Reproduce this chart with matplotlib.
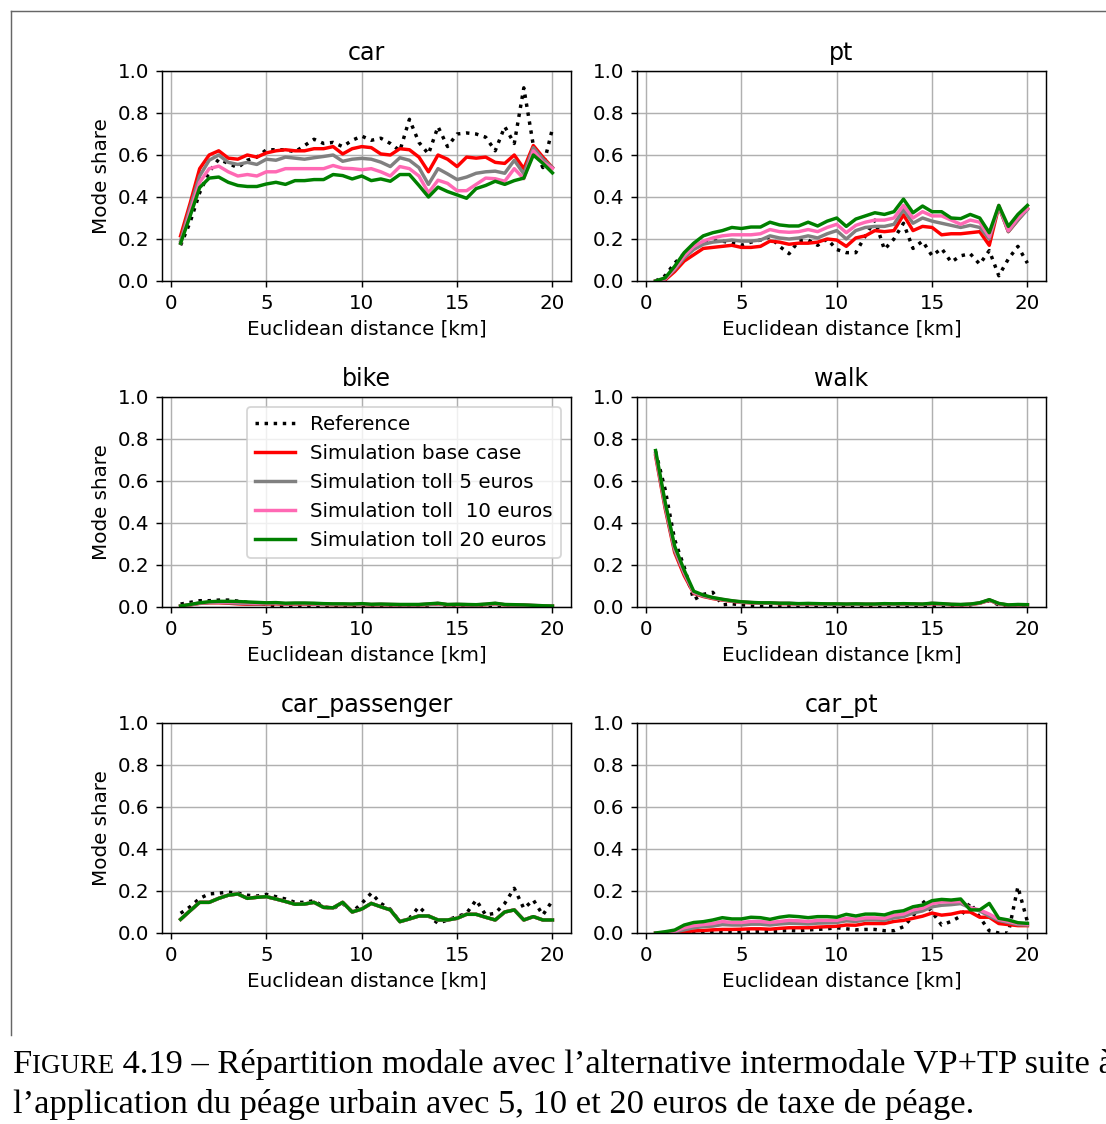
import matplotlib
matplotlib.use('Agg')
import matplotlib.pyplot as plt
from matplotlib.lines import Line2D

# distances [km]
dist = [0.5, 1.0, 1.5, 2.0, 2.5, 3.0, 3.5, 4.0, 4.5, 5.0,
        5.5, 6.0, 6.5, 7.0, 7.5, 8.0, 8.5, 9.0, 9.5, 10.0,
        10.5, 11.0, 11.5, 12.0, 12.5, 13.0, 13.5, 14.0, 14.5, 15.0,
        15.5, 16.0, 16.5, 17.0, 17.5, 18.0, 18.5, 19.0, 19.5, 20.0]

# car
car_ref = [0.17, 0.28, 0.42, 0.52, 0.58, 0.56, 0.54, 0.575, 0.59, 0.625, 0.625, 0.625, 0.615, 0.645, 0.675, 0.655, 0.66, 0.64, 0.67, 0.69,
           0.67, 0.68, 0.655, 0.62, 0.77, 0.66, 0.605, 0.735, 0.64, 0.70, 0.705, 0.70, 0.685, 0.62, 0.735, 0.655, 0.92, 0.645, 0.54, 0.725]
car_base = [0.215, 0.37, 0.535, 0.60, 0.62, 0.585, 0.58, 0.60, 0.59, 0.61, 0.62, 0.625, 0.62, 0.62, 0.63, 0.63, 0.64, 0.605, 0.63, 0.64,
            0.635, 0.605, 0.60, 0.63, 0.625, 0.59, 0.52, 0.60, 0.58, 0.545, 0.59, 0.585, 0.59, 0.565, 0.56, 0.60, 0.535, 0.645, 0.59, 0.54]
car_5 = [0.19, 0.35, 0.50, 0.575, 0.60, 0.565, 0.555, 0.565, 0.555, 0.58, 0.575, 0.59, 0.585, 0.58, 0.587, 0.593, 0.60, 0.57, 0.58, 0.584,
         0.58, 0.566, 0.545, 0.587, 0.575, 0.54, 0.46, 0.535, 0.51, 0.483, 0.495, 0.513, 0.52, 0.523, 0.513, 0.575, 0.51, 0.635, 0.58, 0.54]
car_10 = [0.18, 0.33, 0.47, 0.535, 0.547, 0.52, 0.50, 0.507, 0.50, 0.52, 0.52, 0.535, 0.535, 0.535, 0.535, 0.535, 0.55, 0.537, 0.535, 0.53,
          0.535, 0.52, 0.50, 0.545, 0.535, 0.50, 0.42, 0.48, 0.465, 0.43, 0.43, 0.46, 0.49, 0.487, 0.475, 0.535, 0.487, 0.62, 0.565, 0.537]
car_20 = [0.18, 0.31, 0.445, 0.49, 0.495, 0.47, 0.455, 0.45, 0.45, 0.462, 0.47, 0.46, 0.478, 0.478, 0.483, 0.483, 0.507, 0.502, 0.486, 0.50,
          0.478, 0.486, 0.475, 0.507, 0.507, 0.455, 0.40, 0.447, 0.426, 0.41, 0.394, 0.44, 0.455, 0.475, 0.46, 0.478, 0.49, 0.60, 0.56, 0.515]

# pt
pt_ref = [0.0, 0.025, 0.085, 0.13, 0.16, 0.18, 0.19, 0.19, 0.18, 0.17, 0.185, 0.195, 0.21, 0.165, 0.13, 0.19, 0.195, 0.17, 0.20, 0.15,
          0.135, 0.135, 0.215, 0.29, 0.15, 0.20, 0.275, 0.155, 0.19, 0.12, 0.155, 0.09, 0.12, 0.13, 0.08, 0.145, 0.025, 0.105, 0.165, 0.085]
pt_base = [0.0, 0.005, 0.045, 0.095, 0.125, 0.155, 0.16, 0.165, 0.17, 0.16, 0.16, 0.165, 0.19, 0.185, 0.175, 0.18, 0.18, 0.185, 0.20, 0.195,
           0.165, 0.205, 0.215, 0.24, 0.235, 0.24, 0.315, 0.24, 0.26, 0.255, 0.22, 0.225, 0.225, 0.23, 0.235, 0.17, 0.355, 0.235, 0.29, 0.345]
pt_5 = [0.0, 0.01, 0.055, 0.11, 0.15, 0.175, 0.185, 0.19, 0.195, 0.19, 0.19, 0.195, 0.215, 0.205, 0.20, 0.205, 0.215, 0.205, 0.225, 0.24,
        0.20, 0.24, 0.255, 0.26, 0.26, 0.27, 0.34, 0.275, 0.30, 0.285, 0.275, 0.265, 0.255, 0.265, 0.255, 0.20, 0.355, 0.235, 0.29, 0.34]
pt_10 = [0.0, 0.01, 0.06, 0.12, 0.165, 0.19, 0.205, 0.215, 0.22, 0.22, 0.22, 0.225, 0.245, 0.235, 0.232, 0.235, 0.245, 0.235, 0.255, 0.27,
         0.23, 0.265, 0.28, 0.29, 0.29, 0.30, 0.36, 0.30, 0.33, 0.31, 0.31, 0.29, 0.27, 0.29, 0.28, 0.21, 0.36, 0.24, 0.30, 0.345]
pt_20 = [0.0, 0.015, 0.07, 0.135, 0.18, 0.215, 0.23, 0.24, 0.255, 0.25, 0.257, 0.257, 0.28, 0.267, 0.262, 0.262, 0.28, 0.262, 0.285, 0.30,
         0.26, 0.295, 0.31, 0.325, 0.317, 0.33, 0.39, 0.325, 0.357, 0.33, 0.33, 0.30, 0.297, 0.317, 0.30, 0.23, 0.36, 0.26, 0.317, 0.36]

# bike
bike_ref = [0.014, 0.022, 0.03, 0.03, 0.033, 0.033, 0.028, 0.022, 0.018, 0.012, 0.006, 0.003, 0.003, 0.003, 0.004, 0.004, 0.004, 0.004, 0.004, 0.004,
            0.004, 0.004, 0.004, 0.004, 0.005, 0.006, 0.01, 0.017, 0.006, 0.004, 0.004, 0.004, 0.004, 0.004, 0.004, 0.004, 0.003, 0.002, 0.002, 0.002]
bike_base = [0.004, 0.01, 0.017, 0.02, 0.02, 0.018, 0.015, 0.013, 0.013, 0.014, 0.015, 0.013, 0.014, 0.014, 0.013, 0.012, 0.011, 0.011, 0.011, 0.012,
             0.01, 0.011, 0.01, 0.01, 0.01, 0.01, 0.012, 0.015, 0.01, 0.011, 0.01, 0.009, 0.011, 0.015, 0.01, 0.009, 0.008, 0.006, 0.005, 0.004]
bike_5 = [0.004, 0.011, 0.018, 0.021, 0.022, 0.02, 0.018, 0.016, 0.015, 0.016, 0.017, 0.015, 0.016, 0.016, 0.015, 0.013, 0.012, 0.012, 0.012, 0.013,
          0.011, 0.012, 0.011, 0.011, 0.011, 0.011, 0.013, 0.016, 0.011, 0.012, 0.011, 0.01, 0.012, 0.016, 0.011, 0.01, 0.009, 0.007, 0.005, 0.004]
bike_10 = [0.005, 0.011, 0.019, 0.023, 0.024, 0.023, 0.022, 0.02, 0.018, 0.018, 0.019, 0.016, 0.017, 0.017, 0.016, 0.014, 0.013, 0.013, 0.013, 0.014,
           0.012, 0.013, 0.012, 0.011, 0.011, 0.011, 0.014, 0.017, 0.011, 0.012, 0.011, 0.01, 0.013, 0.017, 0.011, 0.01, 0.009, 0.007, 0.006, 0.005]
bike_20 = [0.005, 0.012, 0.02, 0.025, 0.027, 0.027, 0.026, 0.024, 0.022, 0.02, 0.021, 0.018, 0.019, 0.019, 0.018, 0.016, 0.015, 0.015, 0.014, 0.016,
           0.013, 0.014, 0.013, 0.012, 0.012, 0.012, 0.015, 0.018, 0.012, 0.013, 0.012, 0.011, 0.014, 0.018, 0.012, 0.011, 0.01, 0.008, 0.006, 0.005]

# walk
walk_ref = [0.74, 0.56, 0.32, 0.19, 0.035, 0.06, 0.07, 0.01, 0.015, 0.01, 0.008, 0.006, 0.006, 0.005, 0.005, 0.006, 0.005, 0.005, 0.006, 0.005,
            0.005, 0.006, 0.005, 0.005, 0.006, 0.005, 0.006, 0.005, 0.005, 0.006, 0.005, 0.005, 0.006, 0.01, 0.02, 0.03, 0.01, 0.005, 0.005, 0.005]
walk_base = [0.72, 0.47, 0.26, 0.15, 0.065, 0.05, 0.04, 0.033, 0.027, 0.022, 0.02, 0.018, 0.018, 0.016, 0.016, 0.014, 0.015, 0.014, 0.013, 0.013,
             0.012, 0.013, 0.012, 0.012, 0.014, 0.013, 0.014, 0.013, 0.012, 0.016, 0.014, 0.011, 0.01, 0.012, 0.018, 0.032, 0.015, 0.008, 0.01, 0.01]
walk_5 = [0.73, 0.48, 0.27, 0.16, 0.068, 0.052, 0.042, 0.035, 0.028, 0.023, 0.021, 0.019, 0.019, 0.017, 0.017, 0.015, 0.016, 0.015, 0.014, 0.014,
          0.013, 0.014, 0.013, 0.013, 0.015, 0.014, 0.015, 0.014, 0.013, 0.017, 0.015, 0.012, 0.011, 0.013, 0.019, 0.033, 0.016, 0.009, 0.011, 0.01]
walk_10 = [0.735, 0.49, 0.28, 0.165, 0.07, 0.055, 0.044, 0.036, 0.029, 0.024, 0.021, 0.019, 0.019, 0.017, 0.017, 0.015, 0.016, 0.015, 0.014, 0.014,
           0.013, 0.014, 0.013, 0.013, 0.015, 0.014, 0.015, 0.014, 0.013, 0.017, 0.015, 0.012, 0.011, 0.013, 0.019, 0.034, 0.016, 0.009, 0.011, 0.011]
walk_20 = [0.745, 0.50, 0.29, 0.175, 0.075, 0.057, 0.045, 0.037, 0.03, 0.025, 0.022, 0.02, 0.02, 0.018, 0.018, 0.016, 0.017, 0.016, 0.015, 0.015,
           0.014, 0.015, 0.014, 0.014, 0.016, 0.015, 0.016, 0.015, 0.014, 0.018, 0.016, 0.013, 0.012, 0.014, 0.02, 0.035, 0.017, 0.01, 0.012, 0.011]

# car_passenger (simulations practically identical)
cp_ref = [0.094, 0.125, 0.165, 0.186, 0.19, 0.194, 0.19, 0.18, 0.176, 0.184, 0.173, 0.162, 0.146, 0.146, 0.154, 0.125, 0.117, 0.141, 0.10, 0.141,
          0.19, 0.141, 0.113, 0.054, 0.07, 0.125, 0.081, 0.046, 0.062, 0.078, 0.094, 0.157, 0.086, 0.094, 0.141, 0.213, 0.117, 0.157, 0.086, 0.154]
cp_base = [0.065, 0.106, 0.146, 0.146, 0.165, 0.18, 0.186, 0.165, 0.17, 0.173, 0.162, 0.15, 0.137, 0.138, 0.146, 0.122, 0.12, 0.146, 0.10, 0.114,
           0.141, 0.125, 0.11, 0.054, 0.067, 0.081, 0.081, 0.062, 0.062, 0.07, 0.089, 0.089, 0.075, 0.062, 0.10, 0.11, 0.062, 0.078, 0.062, 0.062]
cp_5 = cp_base
cp_10 = cp_base
cp_20 = cp_base

# car_pt
cpt_ref = [0.0, 0.0, 0.0, 0.002, 0.003, 0.004, 0.005, 0.006, 0.005, 0.006, 0.005, 0.008, 0.006, 0.01, 0.012, 0.01, 0.015, 0.017, 0.02, 0.025,
           0.02, 0.015, 0.017, 0.017, 0.011, 0.011, 0.03, 0.08, 0.154, 0.10, 0.038, 0.055, 0.08, 0.144, 0.075, 0.01, 0.0, 0.0, 0.22, 0.054]
cpt_base = [0.0, 0.0, 0.002, 0.005, 0.01, 0.012, 0.015, 0.017, 0.017, 0.018, 0.02, 0.02, 0.018, 0.022, 0.025, 0.025, 0.025, 0.028, 0.03, 0.032,
            0.038, 0.037, 0.045, 0.045, 0.045, 0.055, 0.06, 0.07, 0.08, 0.095, 0.085, 0.09, 0.1, 0.1, 0.075, 0.075, 0.045, 0.04, 0.035, 0.035]
cpt_5 = [0.0, 0.002, 0.005, 0.015, 0.025, 0.03, 0.033, 0.04, 0.038, 0.038, 0.042, 0.042, 0.038, 0.043, 0.046, 0.045, 0.043, 0.047, 0.048, 0.05,
         0.058, 0.055, 0.062, 0.062, 0.06, 0.072, 0.078, 0.095, 0.105, 0.125, 0.132, 0.135, 0.14, 0.12, 0.105, 0.08, 0.06, 0.05, 0.04, 0.038]
cpt_10 = [0.0, 0.003, 0.008, 0.025, 0.035, 0.04, 0.045, 0.055, 0.05, 0.05, 0.055, 0.055, 0.05, 0.055, 0.06, 0.058, 0.055, 0.06, 0.06, 0.06,
          0.07, 0.065, 0.072, 0.072, 0.07, 0.085, 0.09, 0.11, 0.118, 0.14, 0.148, 0.148, 0.15, 0.12, 0.11, 0.09, 0.065, 0.055, 0.045, 0.042]
cpt_20 = [0.0, 0.006, 0.014, 0.038, 0.05, 0.054, 0.062, 0.073, 0.067, 0.067, 0.075, 0.073, 0.065, 0.075, 0.081, 0.078, 0.073, 0.078, 0.078, 0.075,
          0.089, 0.081, 0.09, 0.09, 0.086, 0.10, 0.106, 0.125, 0.133, 0.154, 0.16, 0.157, 0.162, 0.11, 0.11, 0.141, 0.07, 0.062, 0.049, 0.046]

modes = ['car', 'pt', 'bike', 'walk', 'car_passenger', 'car_pt']
ref_data = [car_ref, pt_ref, bike_ref, walk_ref, cp_ref, cpt_ref]
sim_data = [[car_base, car_5, car_10, car_20],
            [pt_base, pt_5, pt_10, pt_20],
            [bike_base, bike_5, bike_10, bike_20],
            [walk_base, walk_5, walk_10, walk_20],
            [cp_base, cp_5, cp_10, cp_20],
            [cpt_base, cpt_5, cpt_10, cpt_20]]
sim_labels = ['Simulation base case', 'Simulation toll 5 euros',
              'Simulation toll  10 euros', 'Simulation toll 20 euros']
sim_colors = ['red', 'gray', 'hotpink', 'green']

plt.rcParams['font.size'] = 11
plt.rcParams['lines.linewidth'] = 1.9

W, H = 1106, 1124
dpi = 130
fig = plt.figure(figsize=(W / dpi, H / dpi), dpi=dpi)

col_left = [162, 637]
row_bottom = [281, 607, 933]
ax_w, ax_h = 409, 210

for i, mode in enumerate(modes):
    r, c = divmod(i, 2)
    ax = fig.add_axes([col_left[c] / W, (H - row_bottom[r]) / H, ax_w / W, ax_h / H])
    ax.plot(dist, ref_data[i], color='black', linestyle=':', label='Reference')
    for vals, lab, col in zip(sim_data[i], sim_labels, sim_colors):
        ax.plot(dist, vals, color=col, label=lab)
    ax.set_ylim(0, 1.0)
    ax.set_xticks([0, 5, 10, 15, 20])
    ax.grid(True)
    ax.set_title(mode)
    ax.set_xlabel('Euclidean distance [km]')
    if c == 0:
        ax.set_ylabel('Mode share')
    if mode == 'bike':
        ax.legend(loc='upper right')

# page frame
fig.add_artist(Line2D([11 / W, 1.0], [1 - 11 / H, 1 - 11 / H], color='#666666', lw=0.8))
fig.add_artist(Line2D([11 / W, 11 / W], [1 - 11 / H, 1 - 1035 / H], color='#666666', lw=0.8))

# caption with small caps "Figure"
cap_font = dict(family='Liberation Serif', color='black')
fs = 19.1
renderer = fig.canvas.get_renderer()
x0 = 13 / W
y1 = 1 - 1073 / H
t = fig.text(x0, y1, 'F', fontsize=fs, **cap_font)
bb = t.get_window_extent(renderer)
t2 = fig.text(bb.x1 / W, y1, 'IGURE', fontsize=fs * 0.78, **cap_font)
bb2 = t2.get_window_extent(renderer)
fig.text(bb2.x1 / W, y1,
         ' 4.19 \u2013 R\u00e9partition modale avec l\u2019alternative intermodale VP+TP suite \u00e0',
         fontsize=fs, **cap_font)
fig.text(x0, 1 - 1113 / H,
         'l\u2019application du p\u00e9age urbain avec 5, 10 et 20 euros de taxe de p\u00e9age.',
         fontsize=fs, **cap_font)

fig.savefig('out.png', dpi=dpi)
